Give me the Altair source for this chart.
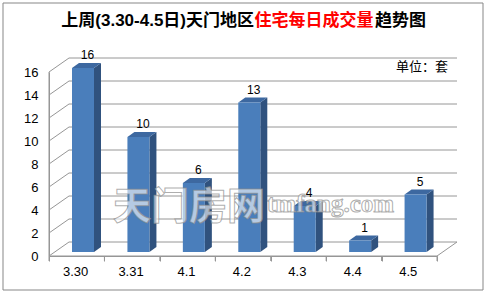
import altair as alt
import pandas as pd

# ---- data ----
categories = ["3.30", "3.31", "4.1", "4.2", "4.3", "4.4", "4.5"]
values = [16, 10, 6, 13, 4, 1, 5]
y_ticks = [0, 2, 4, 6, 8, 10, 12, 14, 16]
title_parts = ["上周(3.30-4.5日)天门地区", "住宅每日成交量", "趋势图"]
unit_text = "单位：套"
watermark_cn = "天门房网"
watermark_en = "tmfang.com"

# ---- layout (pixels) ----
X0, Y0 = 49, 72          # front-left-bottom corner of the plot area
W, H = 388, 184
PXU = W / 7.0            # px per category unit
PYV = H / 16.0           # px per value unit
WALL_DX, WALL_DY = 20, 14
BAR_L, BAR_R = 23, 45    # front face of bar inside its band (px)
BAR_UP = 4               # bar floor raised (px)
DEP_DX, DEP_DY = 7, 5    # bar depth (px)
TICK = 5

FRONT = "#4A7EBB"
SIDE = "#30527E"
TOP = "#3D68A0"
GRID = "#969696"

n = len(categories)
bars = pd.DataFrame({"i": range(n), "cat": categories, "val": values})

front = bars.assign(
    x0=bars.i + BAR_L / PXU, x1=bars.i + BAR_R / PXU,
    y0=BAR_UP / PYV, y1=bars.val + BAR_UP / PYV)

side_rows = []
top_rows = []
for i, c, v in zip(range(n), categories, values):
    side_rows.append({"cat": c, "sx": i + BAR_R / PXU, "sy": v + BAR_UP / PYV, "sy2": BAR_UP / PYV})
    side_rows.append({"cat": c, "sx": i + (BAR_R + DEP_DX) / PXU,
                      "sy": v + (BAR_UP + DEP_DY) / PYV, "sy2": (BAR_UP + DEP_DY) / PYV})
    top_rows.append({"cat": c, "ty": v + BAR_UP / PYV, "tx": i + BAR_L / PXU, "tx2": i + BAR_R / PXU})
    top_rows.append({"cat": c, "ty": v + (BAR_UP + DEP_DY) / PYV,
                     "tx": i + (BAR_L + DEP_DX) / PXU, "tx2": i + (BAR_R + DEP_DX) / PXU})
side = pd.DataFrame(side_rows)
topf = pd.DataFrame(top_rows)

grid = pd.DataFrame({"v": y_ticks})
grid = grid.assign(bx0=WALL_DX / PXU, bx1=7 + WALL_DX / PXU, by=grid.v + WALL_DY / PYV, lx0=0.0)
edges = pd.DataFrame({
    "x": [7.0, 0.0, 0.0],
    "x2": [7 + WALL_DX / PXU, 7.0, 0.0],
    "y": [0.0, 0.0, 0.0],
    "y2": [WALL_DY / PYV, 0.0, 16.0],
})
ticks = pd.DataFrame({"t": list(range(n + 1))}).assign(y=0.0, y2=-TICK / PYV)

xs = alt.Scale(domain=[0, 7], nice=False, zero=False)
ys = alt.Scale(domain=[0, 16], nice=False, zero=False)
ax_x = alt.Axis(values=list(range(8)), labels=False, grid=False, ticks=True, tickSize=TICK,
                tickColor=GRID, domainColor=GRID, title=None)
ax_y = alt.Axis(values=y_ticks, ticks=False, grid=False, domainColor=GRID,
                labelFont="Liberation Sans", labelFontSize=13, labelColor="#000000",
                labelPadding=11, labelOverlap=False, labelBound=False, labelFlush=False,
                title=None)


def X(f):
    return alt.X(f, scale=xs, axis=ax_x, title=None)


def Y(f):
    return alt.Y(f, scale=ys, axis=ax_y, title=None)


one = pd.DataFrame({"a": [0]})

frame = alt.Chart(one).mark_rect(fillOpacity=0, stroke="#878787", strokeWidth=1).encode(
    x=alt.value(3 - X0), x2=alt.value(483 - X0), y=alt.value(3 - Y0), y2=alt.value(290 - Y0))

back = alt.Chart(grid).mark_rule(color=GRID, strokeWidth=1).encode(
    x=X("bx0:Q"), x2="bx1:Q", y=Y("by:Q"))

leftwall = alt.Chart(grid).mark_rule(color=GRID, strokeWidth=1).encode(
    x=X("lx0:Q"), x2="bx0:Q", y=Y("v:Q"), y2="by:Q")

edge_l = alt.Chart(edges).mark_rule(color=GRID, strokeWidth=1).encode(
    x=X("x:Q"), x2="x2:Q", y=Y("y:Q"), y2="y2:Q")

tick_l = alt.Chart(ticks).mark_rule(color=GRID, strokeWidth=1).encode(
    x=X("t:Q"), y=Y("y:Q"), y2="y2:Q")

side_l = alt.Chart(side).mark_area(color=SIDE, interpolate="linear").encode(
    x=X("sx:Q"), y=Y("sy:Q"), y2="sy2:Q", detail="cat:N")

top_l = alt.Chart(topf).mark_area(color=TOP, orient="horizontal", interpolate="linear").encode(
    y=Y("ty:Q"), x=X("tx:Q"), x2="tx2:Q", detail="cat:N")

front_l = alt.Chart(front).mark_bar(color=FRONT).encode(
    x=X("x0:Q"), x2="x1:Q", y=Y("y1:Q"), y2="y0:Q")

vlabels = alt.Chart(bars).transform_calculate(
    lx=f"datum.i + {(BAR_L + BAR_R) / 2 + 4.5} / {PXU}",
    ly=f"datum.val + {BAR_UP} / {PYV}").mark_text(
    font="Liberation Sans", fontSize=12, color="#000000", baseline="middle", dy=-13).encode(
    x=X("lx:Q"), y=Y("ly:Q"), text="val:Q")

xlabels = alt.Chart(bars).transform_calculate(lx="datum.i + 0.48").mark_text(
    font="Liberation Sans", fontSize=13, color="#000000", baseline="middle").encode(
    x=X("lx:Q"), y=alt.value(H + 16), text="cat:N")

t_font = "Noto Sans CJK SC"
mix_font = "Liberation Sans, Noto Sans CJK SC"
t1 = alt.Chart(one).mark_text(font=mix_font, fontSize=17, fontWeight="bold", color="#000000",
                              align="right", baseline="middle").encode(
    x=alt.value(254 - X0), y=alt.value(21 - Y0), text=alt.value(title_parts[0]))
t2 = alt.Chart(one).mark_text(font=t_font, fontSize=17, fontWeight="bold", color="#FF0000",
                              align="center", baseline="middle").encode(
    x=alt.value(314 - X0), y=alt.value(21 - Y0), text=alt.value(title_parts[1]))
t3 = alt.Chart(one).mark_text(font=t_font, fontSize=17, fontWeight="bold", color="#000000",
                              align="left", baseline="middle").encode(
    x=alt.value(375 - X0), y=alt.value(21 - Y0), text=alt.value(title_parts[2]))

unit = alt.Chart(one).mark_text(font=t_font, fontSize=13, color="#000000",
                                align="right", baseline="middle").encode(
    x=alt.value(448 - X0), y=alt.value(67 - Y0), text=alt.value(unit_text))

wm1 = alt.Chart(one).mark_text(font=t_font, fontSize=38, fontWeight="bold", fill="#ffffff",
                               fillOpacity=0.6, stroke="#8a8a8a", strokeOpacity=0.7, strokeWidth=1,
                               align="center", baseline="middle").encode(
    x=alt.value(189 - X0), y=alt.value(208 - Y0), text=alt.value(watermark_cn))
wm2 = alt.Chart(one).mark_text(font="Liberation Serif", fontSize=25, fontWeight="bold",
                               fill="#ffffff", fillOpacity=0.6, stroke="#8a8a8a", strokeOpacity=0.7,
                               strokeWidth=1, align="left", baseline="middle").encode(
    x=alt.value(267 - X0), y=alt.value(204 - Y0), text=alt.value(watermark_en))

chart = alt.layer(
    back, frame, leftwall, edge_l, tick_l, side_l, top_l, front_l, vlabels, xlabels,
    t1, t2, t3, unit, wm1, wm2
).properties(
    width=W, height=H,
    padding={"left": X0, "top": Y0, "right": 488 - X0 - W, "bottom": 295 - Y0 - H},
    autosize=alt.AutoSizeParams(type="none"),
    background="#ffffff",
).configure_view(stroke=None)

chart.save("out.html", embed_options={"renderer": "svg", "actions": False})
